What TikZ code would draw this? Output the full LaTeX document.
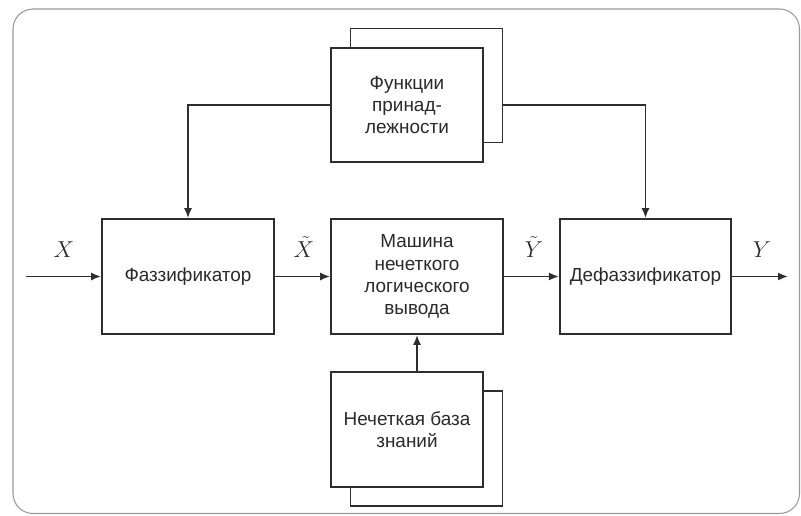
\documentclass[tikz,border=0pt]{standalone}
\usepackage{fontspec}
\setmainfont{Liberation Sans}
\usetikzlibrary{arrows.meta}
\definecolor{linecol}{HTML}{2E2E2E}
\definecolor{textcol}{HTML}{2A2A2A}
\definecolor{framecol}{HTML}{9A9A9A}
\begin{document}
\begin{tikzpicture}[x=0.75pt,y=-0.75pt,
  box/.style={draw=linecol, line width=1.3pt, fill=white, inner sep=0pt, align=center,
    font=\fontsize{14.2}{16.6}\selectfont, text=textcol},
  conn/.style={draw=linecol, line width=1.3pt, -{Latex[length=7.5pt,width=6pt]}},
  lbl/.style={font=\LARGE, text=textcol, inner sep=0pt, anchor=base}]
\useasboundingbox (0,0) rectangle (801,515);
\draw[framecol, line width=0.8pt, rounded corners=15pt] (13,9) rectangle (799.5,513.5);

% membership functions (stacked)
\node[box, minimum width=114pt, minimum height=85.5pt] (funcb) at (426.5,85.5) {};
\node[box, minimum width=114pt, minimum height=85.5pt] (func) at (407,105) {Функции\\принад-\\лежности};

% knowledge base (stacked)
\node[box, minimum width=114pt, minimum height=86.25pt] (baseb) at (426.5,448.5) {};
\node[box, minimum width=114pt, minimum height=86.25pt] (base) at (407,429.5) {Нечеткая база\\знаний};

% main chain
\node[box, minimum width=129pt, minimum height=86.25pt] (faz) at (188,276.5) {Фаззификатор};
\node[box, minimum width=129pt, minimum height=86.25pt] (mash) at (417,276.5) {Машина\\нечеткого\\логического\\вывода};
\node[box, minimum width=128.5pt, minimum height=86.25pt] (def) at (645.5,276.5) {Дефаззификатор};

\coordinate (in) at (26,276.5);
\coordinate (out) at (788,276.5);

\draw[conn] (in) -- (faz.west);
\draw[conn] (faz.east) -- (mash.west);
\draw[conn] (mash.east) -- (def.west);
\draw[conn] (def.east) -- (out);

\draw[conn] (func.west) -| (faz.north);
\draw[conn] (funcb.east |- func.east) -| (def.north);
\draw[conn] (base.north -| mash.south) -- (mash.south);

% labels
\node[lbl] (lx) at (64,257) {$X$};
\node[lbl] (lxt) at (304,257) {$\tilde{X}$};
\node[lbl] (lyt) at (534,257) {$\tilde{Y}$};
\node[lbl] (ly) at (762,257) {$Y$};
\end{tikzpicture}
\end{document}
